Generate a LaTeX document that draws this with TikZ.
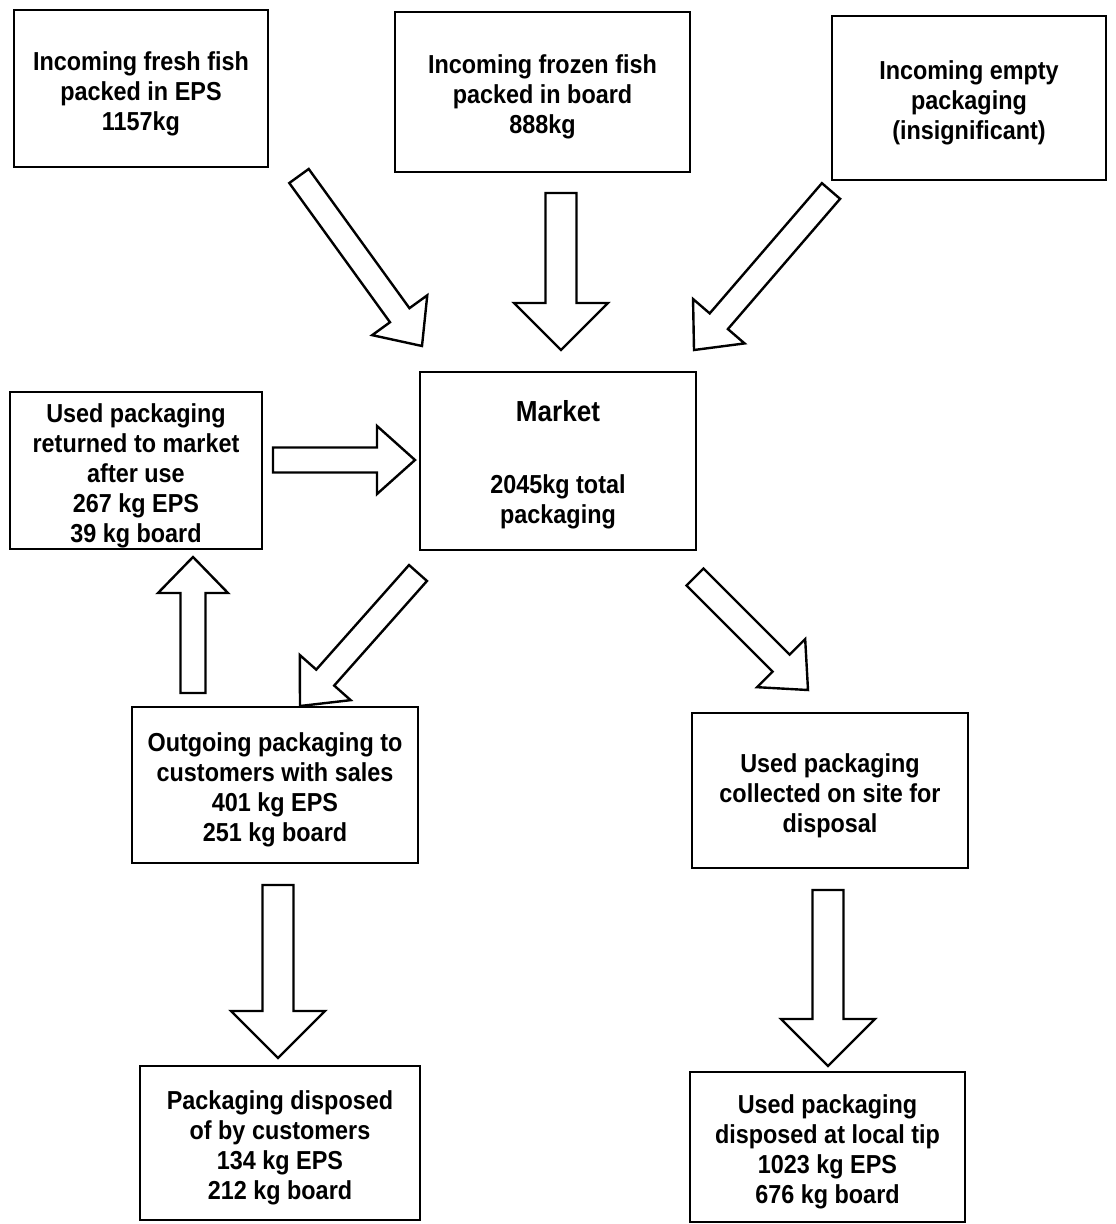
\documentclass[tikz,border=0pt]{standalone}
\usepackage{fontspec}
\setmainfont{Liberation Sans}[FakeStretch=0.9]
\usetikzlibrary{calc}
\newcommand\topgap{\rule{0pt}{29pt}}
\tikzset{
  box/.style={draw, line width=2.4pt, align=center, inner sep=0pt, anchor=center,
    font=\bfseries\fontsize{26}{30}\selectfont},
  barrow/.style={draw, line width=2.4pt, fill=white, line join=miter},
}
\newcommand\blockarrow[5]{%
  \coordinate (ba-h) at ($(#2)!#5!(#1)$);
  \draw[barrow] ($(#1)!#3!90:(#2)$) -- ($(ba-h)!#3!-90:(#1)$) -- ($(ba-h)!#4!-90:(#1)$)
    -- (#2) -- ($(ba-h)!#4!90:(#1)$) -- ($(ba-h)!#3!90:(#1)$) -- ($(#1)!#3!-90:(#2)$) -- cycle;
}
\begin{document}
\begin{tikzpicture}[x=1pt,y=-1pt]
\useasboundingbox (0,0) rectangle (1116,1224);
\fill[white] (0,0) rectangle (1116,1224);

% boxes
\node[box, minimum width=254pt, minimum height=157pt] (fresh) at (141,88.5)
  {\topgap Incoming fresh fish\\packed in EPS\\1157kg};
\node[box, minimum width=295pt, minimum height=160pt] (frozen) at (542.5,92)
  {\topgap Incoming frozen fish\\packed in board\\888kg};
\node[box, minimum width=274pt, minimum height=164pt] (empty) at (969,98)
  {\topgap Incoming empty\\packaging\\(insignificant)};
\node[box, minimum width=252pt, minimum height=157pt] (ret) at (136,470.5)
  {\topgap Used packaging\\returned to market\\after use\\267 kg EPS\\39 kg board};
\node[box, minimum width=276pt, minimum height=178pt] (mkt) at (558,461)
  {\topgap{\fontsize{29}{30}\selectfont Market}\\[42pt]2045kg total\\packaging};
\node[box, minimum width=286pt, minimum height=156pt] (out) at (275,785)
  {\topgap Outgoing packaging to\\customers with sales\\401 kg EPS\\251 kg board};
\node[box, minimum width=276pt, minimum height=155pt] (col) at (830,790.5)
  {\topgap Used packaging\\collected on site for\\disposal};
\node[box, minimum width=280pt, minimum height=154pt] (dc) at (280,1143)
  {\topgap Packaging disposed\\of by customers\\134 kg EPS\\212 kg board};
\node[box, minimum width=275pt, minimum height=150pt] (tip) at (827.5,1147)
  {\topgap Used packaging\\disposed at local tip\\1023 kg EPS\\676 kg board};

% arrow end points
\coordinate (a1s) at (299,176);  \coordinate (a1e) at (422,346);
\coordinate (a2s) at (561,193);  \coordinate (a2e) at (561,350);
\coordinate (a3s) at (831,191);  \coordinate (a3e) at (694,350);
\coordinate (a4s) at (273,460);  \coordinate (a4e) at (415,460);
\coordinate (a5s) at (418,573);  \coordinate (a5e) at (300,706);
\coordinate (a6s) at (193,693);  \coordinate (a6e) at (193,557);
\coordinate (a7s) at (695,577);  \coordinate (a7e) at (808,690);
\coordinate (a8s) at (278,885);  \coordinate (a8e) at (278,1058);
\coordinate (a9s) at (828,890);  \coordinate (a9e) at (828,1066);

\blockarrow{a1s}{a1e}{12pt}{34pt}{38pt}
\blockarrow{a2s}{a2e}{15.5pt}{47pt}{47pt}
\blockarrow{a3s}{a3e}{12pt}{34pt}{38pt}
\blockarrow{a4s}{a4e}{12.5pt}{34pt}{38pt}
\blockarrow{a5s}{a5e}{12pt}{34pt}{38pt}
\blockarrow{a6s}{a6e}{12.5pt}{35pt}{36pt}
\blockarrow{a7s}{a7e}{12pt}{34pt}{38pt}
\blockarrow{a8s}{a8e}{15.5pt}{47pt}{47pt}
\blockarrow{a9s}{a9e}{15.5pt}{47pt}{47pt}
\end{tikzpicture}
\end{document}
